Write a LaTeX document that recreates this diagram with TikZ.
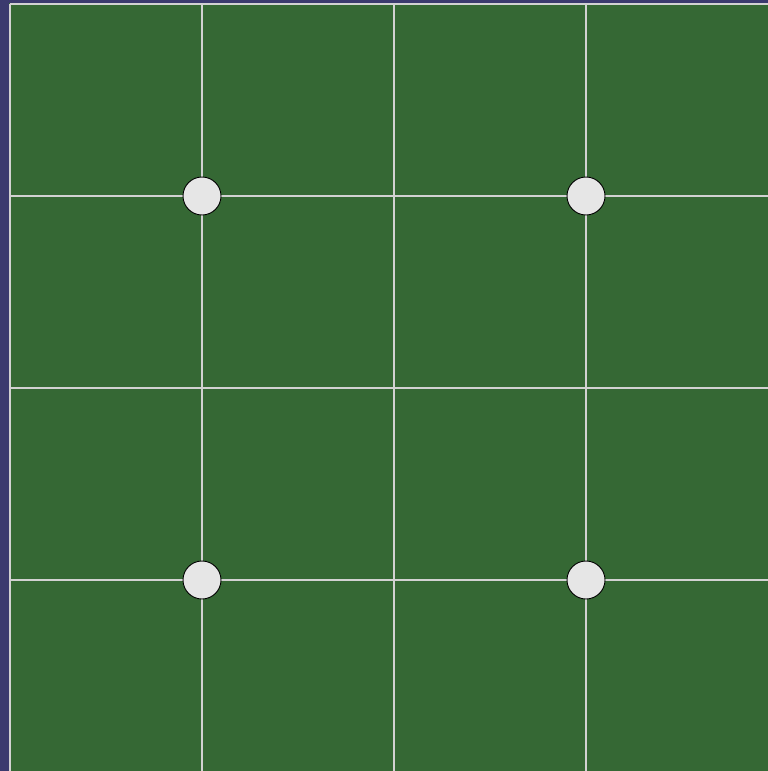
\documentclass[tikz,border=0pt]{standalone}
\definecolor{bgblue}{HTML}{3B3A6E}
\definecolor{board}{HTML}{356834}
\definecolor{gridc}{HTML}{D2D2D2}
\definecolor{stonec}{HTML}{E6E6E6}
\tikzset{
  gridline/.style={draw=gridc, line width=1.3pt},
  stone/.style={circle, draw=black, fill=stonec, line width=0.9pt, minimum size=38pt, inner sep=0pt}
}
\begin{document}
\begin{tikzpicture}[x=1pt,y=-1pt]
\useasboundingbox (0,0) rectangle (768,771);
\fill[bgblue] (0,0) rectangle (768,771);
\fill[board] (9,3) rectangle (768,771);
\foreach \v in {10,202,394,586} {
  \draw[gridline] (\v,4) -- (\v,771);
}
\foreach \v in {4,196,388,580} {
  \draw[gridline] (10,\v) -- (768,\v);
}
\node[stone] (s1) at (202,196) {};
\node[stone] (s2) at (586,196) {};
\node[stone] (s3) at (202,580) {};
\node[stone] (s4) at (586,580) {};
\end{tikzpicture}
\end{document}
